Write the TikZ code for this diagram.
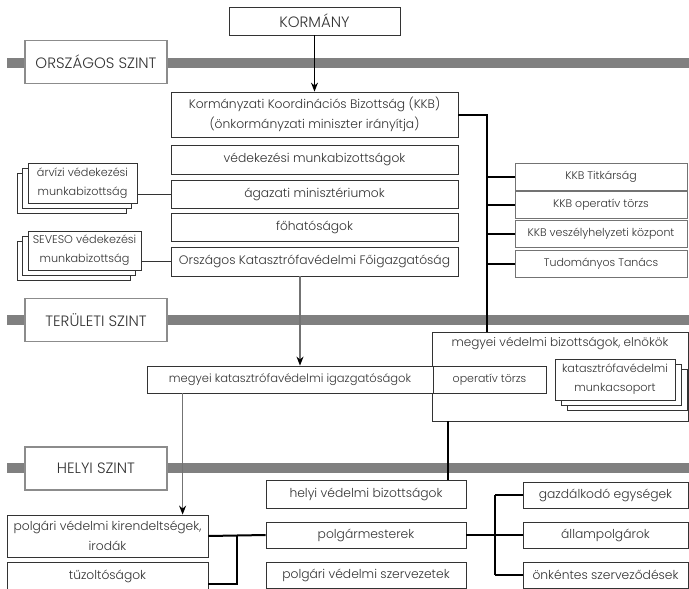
\documentclass[tikz,border=0pt]{standalone}
\usepackage{fontspec}
\setmainfont{Poppins}[UprightFont=* Light]
\usepackage{xcolor}
\usetikzlibrary{arrows.meta,shadows}

\begin{document}
\begin{tikzpicture}[x=1pt, y=-1pt,
     every node/.style={font=\fontsize{12.3}{20}\selectfont, text=black!80, inner sep=1pt, align=center},
     box/.style={draw=black!80, fill=white, line width=0.8pt, minimum height=28pt},
     side/.style={box, draw=black!55, minimum width=172pt, minimum height=27pt, font=\fontsize{11}{14}\selectfont},
     lvl/.style={draw=black!45, fill=white, line width=1.4pt, minimum width=142pt, minimum height=43pt, font=\fontsize{15}{16}\selectfont},
     stackbox/.style={box, font=\fontsize{11.2}{19}\selectfont, minimum height=40pt},
     bar/.style={line width=10pt, draw=black!50},
     link/.style={line width=2pt, draw=black},
     thinlink/.style={line width=0.9pt, draw=black!80},
     karr/.style={line width=1pt, draw=black, -{Stealth[length=9pt, width=7pt]}},
     garr/.style={line width=1.4pt, draw=black!55, -{Stealth[length=9pt, width=7pt, color=black]}}]
     \useasboundingbox (0,0) rectangle (689,589);

     \draw[bar] (7,62.5) -- (689,62.5);
     \draw[bar] (7,319.5) -- (689,319.5);
     \draw[bar] (7,468) -- (689,468);

     \node[box, minimum width=171pt, font=\fontsize{15}{16}\selectfont] (korm) at (314.5,21) {KORMÁNY};
     \node[lvl] (orsz) at (96,62) {ORSZÁGOS SZINT};
     \node[lvl] (teru) at (96,320) {TERÜLETI SZINT};
     \node[lvl] (helyi) at (96,468.5) {HELYI SZINT};

     \node[box, minimum width=287pt, minimum height=45pt] (kkb) at (314.5,114.5) {Kormányzati Koordinációs Bizottság (KKB)\\(önkormányzati miniszter irányítja)};
     \node[box, minimum width=287pt, minimum height=29pt] (vedmb) at (314.5,159.5) {védekezési munkabizottságok};
     \node[box, minimum width=287pt] (agaz) at (314.5,194) {ágazati minisztériumok};
     \node[box, minimum width=287pt] (fohat) at (314.5,227) {főhatóságok};
     \node[box, minimum width=287pt, minimum height=29pt] (okf) at (314.5,261.5) {Országos Katasztrófavédelmi Főigazgatóság};

     \node[side] (titk) at (601,177) {KKB Titkárság};
     \node[side] (kkbop) at (601,205) {KKB operatív törzs};
     \node[side] (veszk) at (601,234) {KKB veszélyhelyzeti központ};
     \node[side] (tud) at (601,264) {Tudományos Tanács};

     \node[stackbox, minimum width=109pt, double copy shadow={shadow xshift=-5.5pt, shadow yshift=-5pt, draw=black!80, fill=white, line width=0.8pt}] (arviz) at (82.5,183) {árvízi védekezési\\munkabizottság};
     \node[stackbox, minimum width=113pt, minimum height=39pt, double copy shadow={shadow xshift=-5.5pt, shadow yshift=-5pt, draw=black!80, fill=white, line width=0.8pt}] (seveso) at (84.5,250.5) {SEVESO védekezési\\munkabizottság};

     \node[box, minimum width=256pt, minimum height=89pt, label={[anchor=north, yshift=-4pt, font=\fontsize{12}{14}\selectfont]north:megyei védelmi bizottságok, elnökök}] (mvb) at (560,376.5) {};
     \node[box, minimum width=113pt, minimum height=27pt, font=\fontsize{11}{14}\selectfont] (optorzs) at (489.5,379.5) {operatív törzs};
     \node[box, minimum width=286pt, minimum height=27pt, font=\fontsize{11.5}{14}\selectfont] (mkat) at (290,379.5) {megyei katasztrófavédelmi igazgatóságok};
     \node[stackbox, minimum width=120pt, minimum height=41pt, double copy shadow={shadow xshift=6pt, shadow yshift=-5pt, draw=black!80, fill=white, line width=0.8pt}] (kmcs) at (615,379.5) {katasztrófavédelmi\\munkacsoport};

     \node[box, minimum width=201pt, minimum height=42pt] (pvk) at (107.5,536) {polgári védelmi kirendeltségek,\\irodák};
     \node[box, minimum width=201pt] (tuz) at (107.5,576) {tűzoltóságok};
     \node[box, minimum width=200pt] (hvb) at (366,494) {helyi védelmi bizottságok};
     \node[box, minimum width=200pt, minimum height=26pt] (polg) at (366,535) {polgármesterek};
     \node[box, minimum width=200pt, minimum height=26pt] (pvsz) at (366,575) {polgári védelmi szervezetek};
     \node[box, minimum width=165pt, minimum height=26pt] (gazd) at (605.5,495) {gazdálkodó egységek};
     \node[box, minimum width=165pt, minimum height=26pt] (allam) at (605.5,535) {állampolgárok};
     \node[box, minimum width=165pt, minimum height=26pt] (onk) at (605.5,575) {önkéntes szerveződések};

     \coordinate (kspine) at (487,332);
     \coordinate (tspine) at (237,536);
     \coordinate (hspine) at (495,535);

     \draw[karr] (korm.south) -- (kkb.north);
     \draw[link] (kkb.east) -| (kspine);
     \draw[link] (titk.west) -- (titk.west -| kspine);
     \draw[link] (kkbop.west) -- (kkbop.west -| kspine);
     \draw[link] (veszk.west) -- (veszk.west -| kspine);
     \draw[link] (tud.west) -- (tud.west -| kspine);
     \draw[thinlink] (agaz.west) -- (agaz.west -| arviz.east);
     \draw[thinlink] (okf.west) -- (okf.west -| seveso.east);
     \draw[garr] ([xshift=-14.5pt]okf.south) -- ([xshift=-14.5pt]okf.south |- mkat.north);
     \draw[garr] ([xshift=36pt]mkat.south west) -- ([xshift=36pt]mkat.south west |- pvk.north);
     \draw[link] ([xshift=16pt]mvb.south west) -- ([xshift=16pt]mvb.south west |- hvb.north);
     \draw[link] (pvk.east) -- (polg.west);
     \draw[link] (tspine) |- ([yshift=-8pt]tuz.east);
     \draw[link] (polg.east) -- (hspine);
     \draw[link] (hspine |- gazd.west) -- (hspine |- onk.west);
     \draw[link] (hspine |- gazd.west) -- (gazd.west);
     \draw[link] (hspine |- allam.west) -- (allam.west);
     \draw[link] (hspine |- onk.west) -- (onk.west);
\end{tikzpicture}
\end{document}
